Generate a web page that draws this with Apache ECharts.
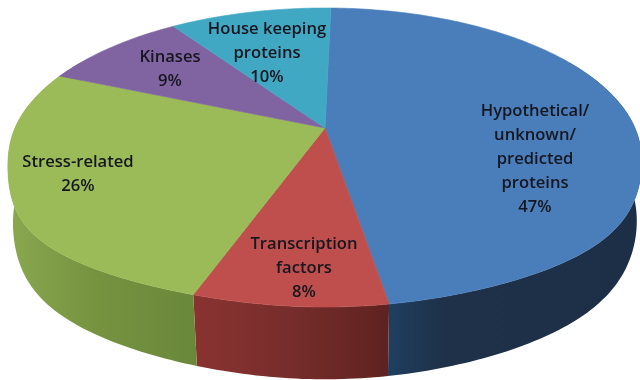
<!DOCTYPE html>
<html>
<head>
<meta charset="utf-8">
<style>html,body{margin:0;padding:0;background:#fff}#chart{width:640px;height:380px}</style>
<script src="https://cdn.jsdelivr.net/npm/echarts@6/dist/echarts.min.js"></script>
</head>
<body>
<div id="chart"></div>
<script>
// Protein classes and their shares, in percent, clockwise from twelve o'clock
const categories = [
  'Hypothetical/\nunknown/\npredicted\nproteins',
  'Transcription\nfactors',
  'Stress-related',
  'Kinases',
  'House keeping\nproteins'
];
const shares = [47, 8, 26, 9, 10];

const topColors = ['#4a7ebb', '#be4f4c', '#9bbb59', '#8064a2', '#41a8c4'];
const wallColors = [
  ['#1f3f60', '#1e3148', '#1d2f47'],
  ['#8a3331', '#762d2b', '#5f2220'],
  ['#8aa84f', '#769340', '#6a883a'],
  ['#66508a', '#66508a', '#66508a'],
  ['#33879d', '#33879d', '#33879d']
];
const wallMidStop = [0.22, 0.5, 0.45, 0.5, 0.5];
const labelCenters = [[535, 159], [304, 268], [78, 174], [170, 69], [267, 53]];

// Projected disc: a unit circle tilted away from the viewer, with a rim below it
const disc = {
  cx: 325, cy: 128, rx: 310, ry: 143.7, tilt: 0.1974, depth: 58, turn: 1.3,
  lowerScale: 0.985, lowerSwell: 0.7, bulgeLeft: 550, bulgeRight: 360
};
const total = shares.reduce((a, b) => a + b, 0);

function project(deg, lowered) {
  const t = deg * Math.PI / 180;
  const X = Math.sin(t), Y = -Math.cos(t);
  const w = 1 - disc.tilt * Y;
  // The near half of the disc swells slightly toward the lower corners
  const swell = Y > 0 ? Math.pow(Y, 4) * Math.pow(1 - Y, 1.5) : 0;
  const side = (X < 0 ? -disc.bulgeLeft : disc.bulgeRight) * swell;
  if (lowered) {
    return [
      disc.cx + disc.lowerScale * disc.rx * X / w + disc.lowerSwell * side,
      disc.cy + disc.ry * Y / w + disc.depth / w
    ];
  }
  return [
    disc.cx + disc.rx * X / w + side,
    disc.cy + disc.ry * Y / w
  ];
}

function sliceSpan(index) {
  let before = 0;
  for (let i = 0; i < index; i++) before += shares[i];
  const start = disc.turn + before / total * 360;
  return [start, start + shares[index] / total * 360];
}

function arc(start, end, lowered) {
  const steps = Math.max(2, Math.ceil(end - start));
  const pts = [];
  for (let i = 0; i <= steps; i++) pts.push(project(start + (end - start) * i / steps, lowered));
  return pts;
}

function renderWall(params) {
  const [start, end] = sliceSpan(params.dataIndex);
  // Only the part of the rim that faces the viewer is drawn
  const from = Math.max(start, 60), to = Math.min(end, 300);
  if (to <= from) return { type: 'group', children: [] };
  const c = wallColors[params.dataIndex];
  return {
    type: 'polygon',
    shape: { points: arc(from, to, false).concat(arc(from, to, true).reverse()) },
    style: {
      fill: new echarts.graphic.LinearGradient(0, 0, 1, 0, [
        { offset: 0, color: c[0] },
        { offset: wallMidStop[params.dataIndex], color: c[1] },
        { offset: 1, color: c[2] }
      ])
    }
  };
}

function renderTop(params) {
  const [start, end] = sliceSpan(params.dataIndex);
  const color = topColors[params.dataIndex];
  return {
    type: 'polygon',
    shape: { points: [[disc.cx, disc.cy]].concat(arc(start, end, false)) },
    style: { fill: color, stroke: color, lineWidth: 0.6 }
  };
}

function renderLabel(params, api) {
  const i = params.dataIndex;
  return {
    type: 'text',
    x: labelCenters[i][0],
    y: labelCenters[i][1],
    style: {
      text: categories[i] + '\n' + api.value(0) + '%',
      align: 'center',
      verticalAlign: 'middle',
      lineHeight: 24,
      fontFamily: 'Open Sans',
      fontWeight: 600,
      fontSize: 16.6,
      fill: '#16161f'
    }
  };
}

const rows = shares.map((v, i) => ({ name: categories[i], value: [v] }));

const chart = echarts.init(document.getElementById('chart'), null, { renderer: 'canvas' });
chart.setOption({
  animation: false,
  backgroundColor: '#ffffff',
  series: [
    { type: 'custom', coordinateSystem: 'none', silent: true, z: 1, renderItem: renderWall, data: rows },
    { type: 'custom', coordinateSystem: 'none', silent: true, z: 2, renderItem: renderTop, data: rows },
    { type: 'custom', coordinateSystem: 'none', silent: true, z: 3, renderItem: renderLabel, data: rows }
  ]
});
</script>
</body>
</html>
